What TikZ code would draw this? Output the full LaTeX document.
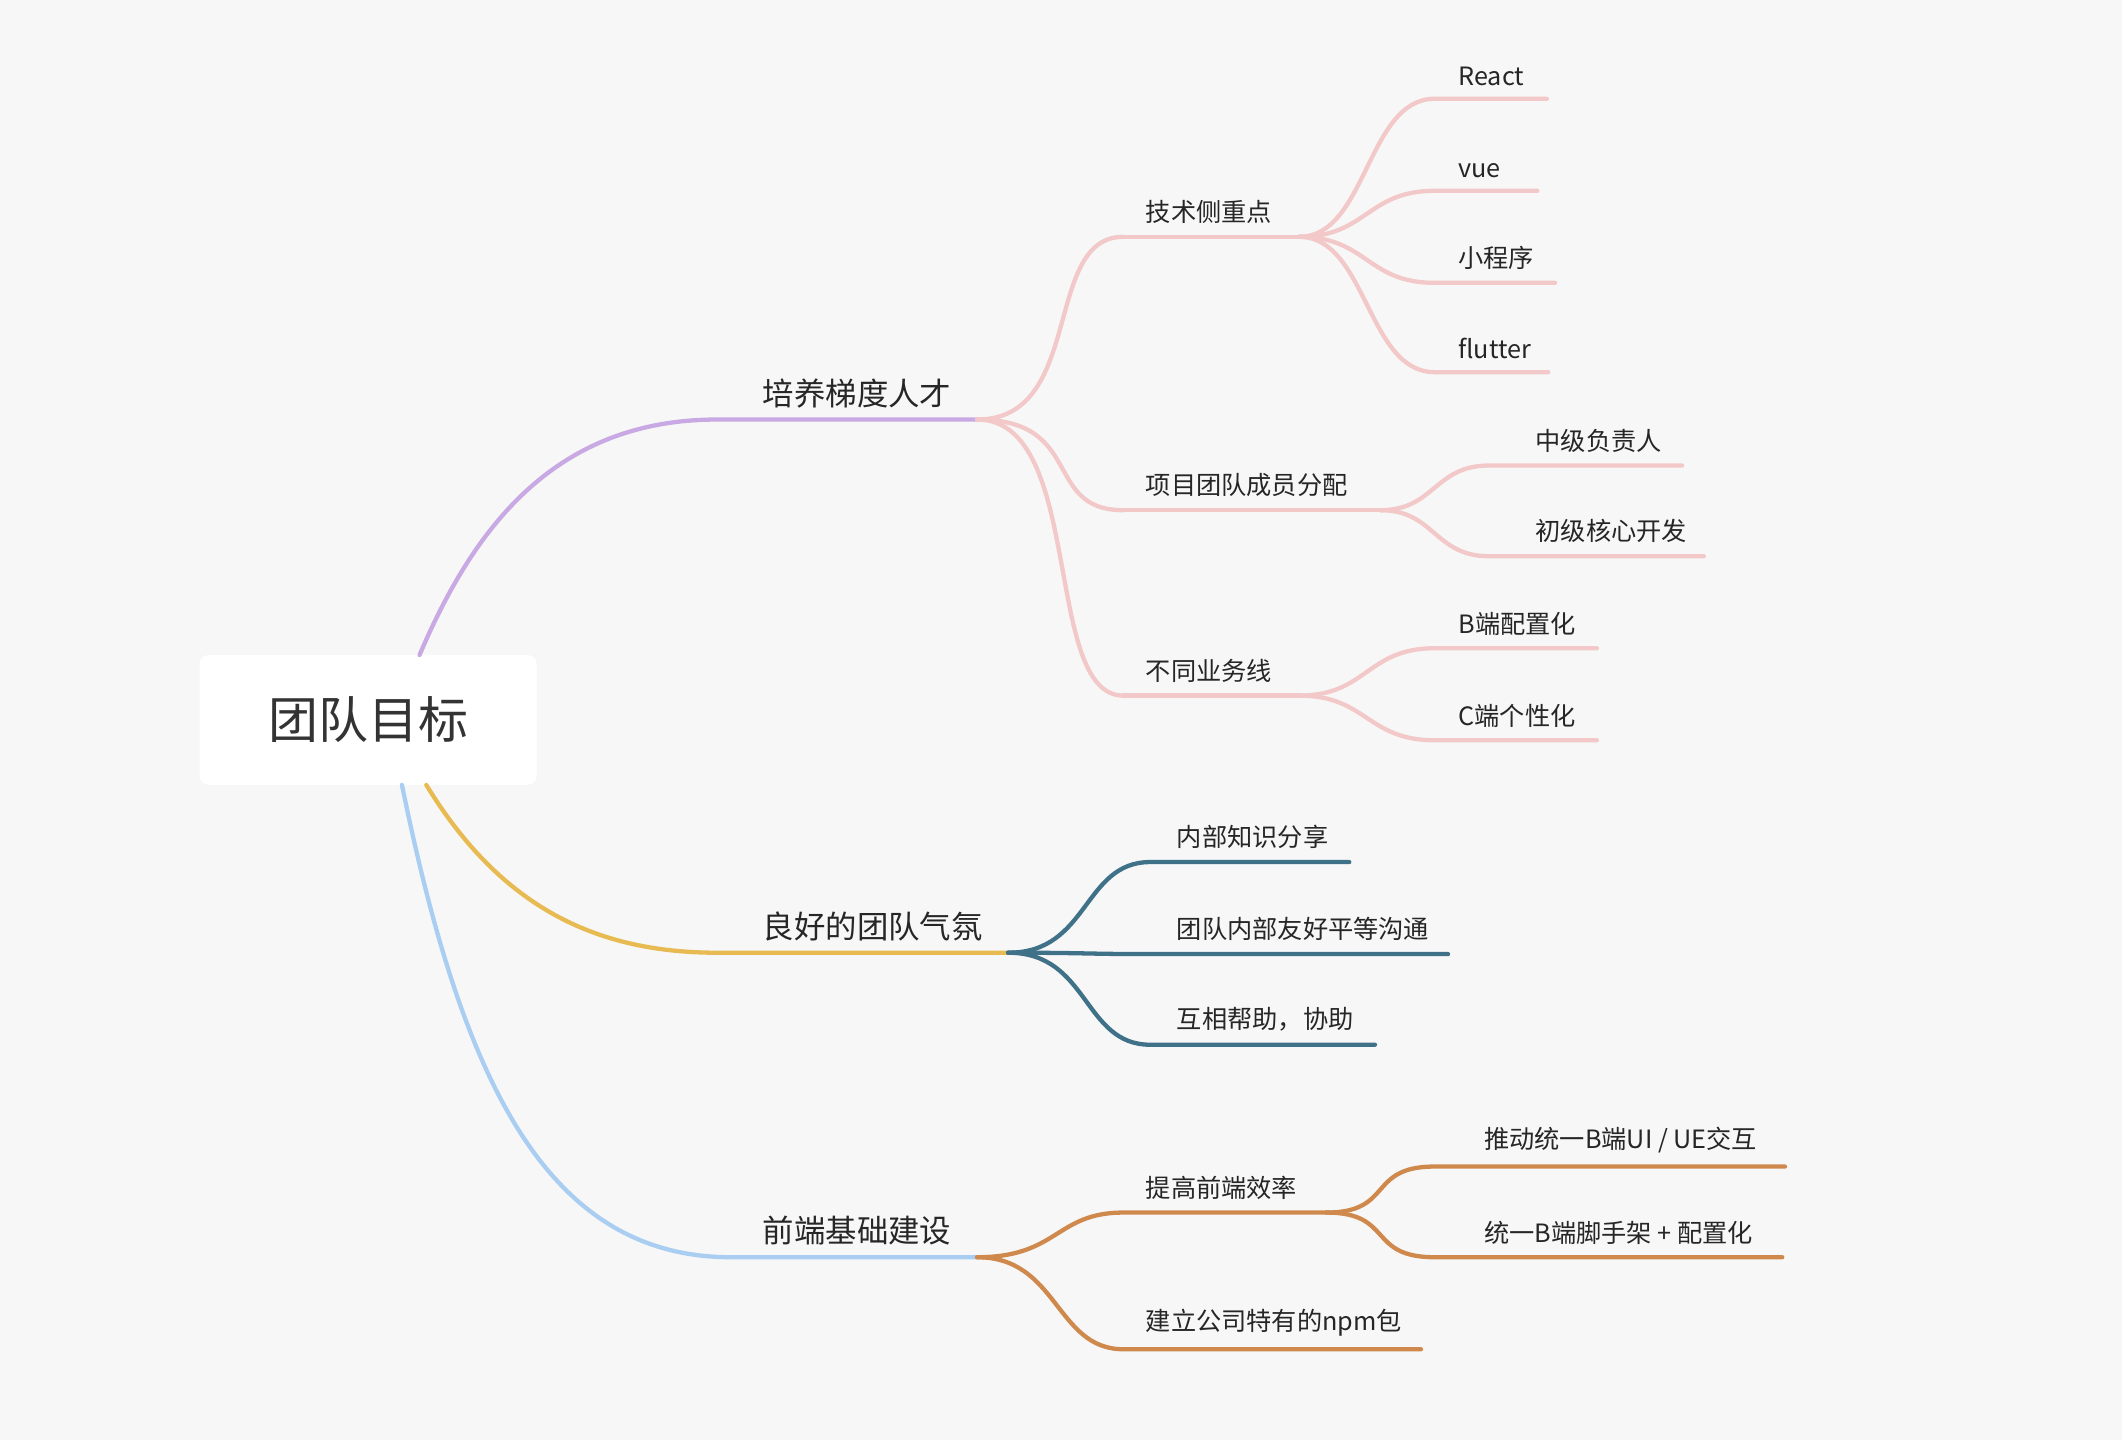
\documentclass[tikz,border=0pt]{standalone}
\usepackage{fontspec}
\setmainfont{Noto Sans CJK SC}
\begin{document}
\begin{tikzpicture}[x=0.01cm,y=-0.01cm]
            \definecolor{bg}{HTML}{F7F7F7}
            \definecolor{purp}{HTML}{C9A9E3}
            \definecolor{pinkc}{HTML}{F2C8C8}
            \definecolor{yell}{HTML}{E8BA52}
            \definecolor{teal}{HTML}{3F7189}
            \definecolor{sky}{HTML}{AACDF2}
            \definecolor{oran}{HTML}{D0894D}
            \tikzstyle{txt}=[anchor=south west,inner sep=0,text=black!85,font=\fontsize{5.3}{6}\selectfont]
            \tikzstyle{grand}=[txt,font=\fontsize{6.6}{7}\selectfont]
            \tikzstyle{ligne}=[line width=0.9pt,line cap=round]
            \fill[bg] (0,0) rectangle (1568,1064);
            \useasboundingbox (0,0) rectangle (1568,1064);
            \node[fill=white,rounded corners=2pt,minimum width=2.49cm,minimum height=0.96cm,
                  drop shadow/.style={},font=\fontsize{10.5}{12}\selectfont,text=black!80] (racine) at (272,532) {团队目标};
            % branche 1
            \coordinate (r1) at (310,484);
            \coordinate (a0) at (530,310); \coordinate (a1) at (722,310);
            \node[grand] (A) at (563,302) {培养梯度人才};
            \draw[ligne,purp] (r1) .. controls (350,390) and (410,310) .. (a0) -- (a1);
            \coordinate (t0) at (830,175); \coordinate (t1) at (960,175);
            \coordinate (p0) at (830,377); \coordinate (p1) at (1020,377);
            \coordinate (u0) at (830,514); \coordinate (u1) at (960,514);
            \node[txt] (T) at (846,166) {技术侧重点};
            \node[txt] (P) at (846,368) {项目团队成员分配};
            \node[txt] (U) at (846,505) {不同业务线};
            \foreach \d in {t0,p0,u0}
                \draw[ligne,pinkc] (a1) .. controls +(80,0) and +(-60,0) .. (\d);
            \draw[ligne,pinkc] (t0) -- (t1);
            \draw[ligne,pinkc] (p0) -- (p1);
            \draw[ligne,pinkc] (u0) -- (u1);
            \foreach \n/\y/\e/\t in {re/73/1143/React,vu/141/1136/vue,xc/209/1149/小程序,fl/275/1144/flutter}{
                \coordinate (\n0) at (1060,\y); \coordinate (\n1) at (\e,\y);
                \node[txt] (\n) at (1077,\y-9) {\t};
                \draw[ligne,pinkc] (t1) .. controls +(50,0) and +(-50,0) .. (\n0) -- (\n1);
            }
            \foreach \n/\y/\e/\t in {zj/344/1243/中级负责人,cj/411/1259/初级核心开发}{
                \coordinate (\n0) at (1100,\y); \coordinate (\n1) at (\e,\y);
                \node[txt] (\n) at (1134,\y-9) {\t};
                \draw[ligne,pinkc] (p1) .. controls +(40,0) and +(-40,0) .. (\n0) -- (\n1);
            }
            \foreach \n/\y/\t in {bd/479/B端配置化,cd/547/C端个性化}{
                \coordinate (\n0) at (1060,\y); \coordinate (\n1) at (1180,\y);
                \node[txt] (\n) at (1077,\y-9) {\t};
                \draw[ligne,pinkc] (u1) .. controls +(50,0) and +(-50,0) .. (\n0) -- (\n1);
            }
            % branche 2
            \coordinate (r2) at (315,580);
            \coordinate (b0) at (530,704); \coordinate (b1) at (745,704);
            \node[grand] (B) at (563,696) {良好的团队气氛};
            \draw[ligne,yell] (r2) .. controls (370,670) and (440,704) .. (b0) -- (b1);
            \foreach \n/\y/\e/\t in {nb/637/997/内部知识分享,td/705/1070/团队内部友好平等沟通,hx/772/1016/互相帮助，协助}{
                \coordinate (\n0) at (850,\y); \coordinate (\n1) at (\e,\y);
                \node[txt] (\n) at (869,\y-9) {\t};
                \draw[ligne,teal] (b1) .. controls +(60,0) and +(-50,0) .. (\n0) -- (\n1);
            }
            % branche 3
            \coordinate (r3) at (297,580);
            \coordinate (c0) at (540,929); \coordinate (c1) at (722,929);
            \node[grand] (C) at (563,921) {前端基础建设};
            \draw[ligne,sky] (r3) .. controls (340,790) and (400,929) .. (c0) -- (c1);
            \coordinate (e0) at (830,896); \coordinate (e1) at (980,896);
            \coordinate (n0) at (830,997); \coordinate (n1) at (1050,997);
            \node[txt] (E) at (846,887) {提高前端效率};
            \node[txt] (N) at (846,988) {建立公司特有的npm包};
            \draw[ligne,oran] (c1) .. controls +(60,0) and +(-50,0) .. (e0) -- (e1);
            \draw[ligne,oran] (c1) .. controls +(60,0) and +(-50,0) .. (n0) -- (n1);
            \foreach \n/\y/\e/\t in {ui/862/1319/{推动统一B端UI / UE交互},jj/929/1317/{统一B端脚手架 + 配置化}}{
                \coordinate (\n0) at (1060,\y); \coordinate (\n1) at (\e,\y);
                \node[txt] (\n) at (1096,\y-9) {\t};
                \draw[ligne,oran] (e1) .. controls +(50,0) and +(-50,0) .. (\n0) -- (\n1);
            }
        \end{tikzpicture}
\end{document}
